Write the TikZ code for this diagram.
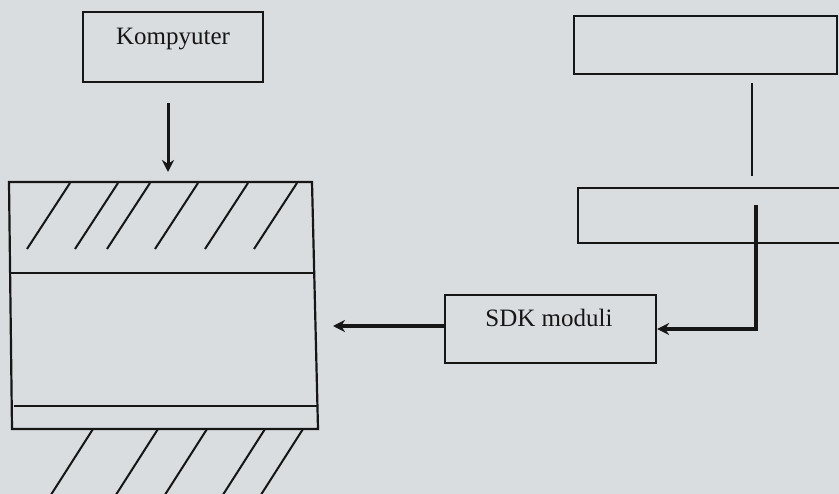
\documentclass[tikz,border=0pt]{standalone}
\usepackage{fontspec}
\setmainfont{Liberation Serif}
\usetikzlibrary{arrows.meta}
\definecolor{paper}{HTML}{D9DDE0}
\definecolor{ink}{HTML}{161616}
\begin{document}
\begin{tikzpicture}[x=1pt,y=-1pt,
  boxline/.style={draw=ink,line width=2.2pt},
  lbl/.style={anchor=base,inner sep=0pt,text=ink,font=\fontsize{25}{30}\selectfont},
  hatch/.style={draw=ink,line width=2pt},
  thickarrow/.style={draw=ink,line width=4pt,-{Stealth[length=12pt,width=12pt]}},
  thinarrow/.style={draw=ink,line width=3pt,-{Stealth[length=12pt,width=12pt]}}]
\fill[paper] (0,0) rectangle (839,494);
\useasboundingbox (0,0) rectangle (839,494);
% Kompyuter box
\node[boxline,minimum width=180pt,minimum height=70pt,inner sep=0pt] (komp) at (173,47) {};
\node[lbl] (komptext) at (173,45) {Kompyuter};
% top right box
\node[boxline,minimum width=263pt,minimum height=58pt,inner sep=0pt] (topr) at (705.5,45) {};
% lower right box, running off the right edge
\coordinate (midrTL) at (578,188);
\coordinate (midrBL) at (578,243);
\draw[boxline] (845,188) -- (midrTL) -- (midrBL) -- (845,243);
% SDK box
\node[boxline,minimum width=211pt,minimum height=68pt,inner sep=0pt] (sdk) at (550.5,329) {};
\node[lbl] (sdktext) at (549,327) {SDK moduli};
% device
\coordinate (dA) at (9,182);
\coordinate (dB) at (312,182);
\coordinate (dC) at (318,429);
\coordinate (dD) at (12,429);
\draw[boxline] (dA) -- (dB) -- (dC) -- (dD) -- cycle;
\draw[boxline] (11,273) -- (313,273);
\draw[boxline] (14,406) -- (317,406);
% hatching top
\foreach \x in {70,118,150,198,248,297}
  \draw[hatch] (\x,183) -- ++(-43,66);
% hatching bottom
\begin{scope}
\clip (0,430) rectangle (839,494);
\foreach \x in {93,158,207,265,303}
  \draw[hatch] (\x,429) -- ++(-46,72);
\end{scope}
% connectors
\coordinate (k1) at (168,103);
\coordinate (k2) at (168,172);
\draw[thinarrow] (k1) -- (k2);
\coordinate (v1) at (752,83);
\coordinate (v2) at (752,176);
\draw[draw=ink,line width=2.6pt] (v1) -- (v2);
\coordinate (w1) at (756,205);
\draw[thickarrow] (w1) |- (sdk.east);
\coordinate (devin) at (333,326);
\draw[thickarrow] (sdk.west |- devin) -- (devin);
\end{tikzpicture}
\end{document}
